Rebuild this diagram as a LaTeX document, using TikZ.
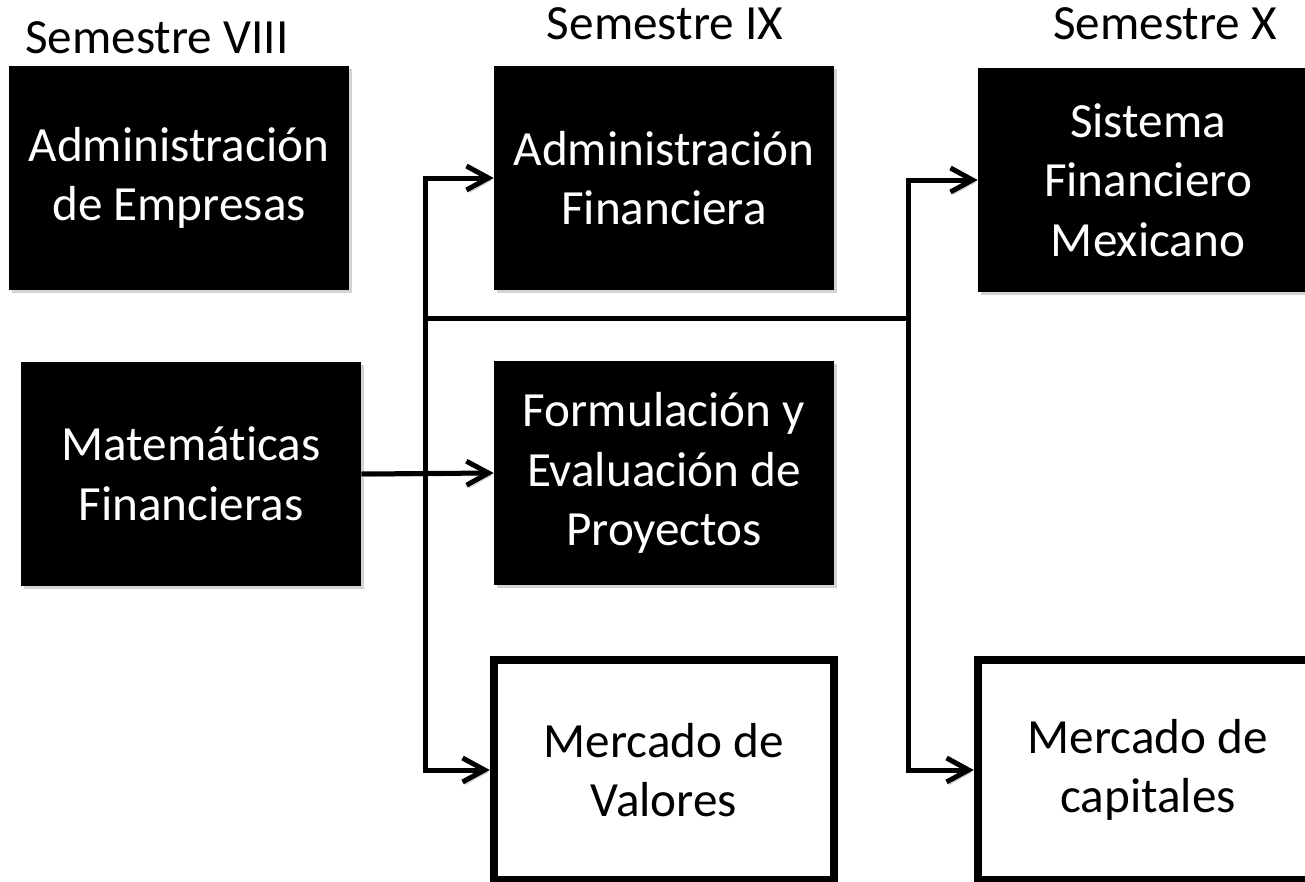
\documentclass[tikz,border=0pt]{standalone}
\usepackage{fontspec}
\setmainfont[Ligatures=NoCommon]{Carlito}
\usetikzlibrary{arrows.meta,shadows}
\begin{document}
\begin{tikzpicture}[x=0.02cm, y=-0.02cm,
		materia/.style={rectangle, fill=black, text=white, minimum width=6.8cm, minimum height=4.5cm, text width=6.4cm, align=flush center, font=\fontsize{28}{34}\selectfont, drop shadow={shadow xshift=0.06cm, shadow yshift=-0.06cm, opacity=0.35}},
		optativa/.style={rectangle, fill=white, draw=black, line width=0.17cm, minimum width=6.8cm, minimum height=4.4cm, text width=6.2cm, align=flush center, font=\fontsize{28}{34}\selectfont},
		semestre/.style={font=\fontsize{28}{34}\selectfont},
		sombra/.style={preaction={draw=black, opacity=0.25, transform canvas={xshift=0.05cm, yshift=-0.05cm}}},
		linea/.style={line width=0.1cm, sombra},
		flecha/.style={linea, -{Straight Barb[length=0.44cm, width=0.48cm]}}]
		\useasboundingbox (0,0) rectangle (1305,882);
		\node[semestre](semVIII) at (157,38){Semestre VIII};
		\node[semestre](semIX) at (665,24){Semestre IX};
		\node[semestre](semX) at (1165,24){Semestre X};
		\node[materia](admEmp) at (179,178){Administración\\de Empresas};
		\node[materia](matFin) at (191,474){Matemáticas\\Financieras};
		\node[materia](admFin) at (664,178){Administración\\Financiera};
		\node[materia](formEval) at (664,473){Formulación y\\Evaluación de\\Proyectos};
		\node[optativa](mercVal) at (664,770){Mercado de\\Valores};
		\node[materia](sisFin) at (1148,180){Sistema\\Financiero\\Mexicano};
		\node[optativa](mercCap) at (1148,770){Mercado de\\capitales};
		\coordinate (busL) at (425,318);
		\coordinate (busR) at (908,318);
		\draw [flecha] (matFin.east) -- (formEval.west);
		\draw [flecha] (busL) |- (admFin.west);
		\draw [flecha] (busL) |- (mercVal.west);
		\draw [linea] (busL) -- (busR);
		\draw [flecha] (busR) |- (sisFin.west);
		\draw [flecha] (busR) |- (mercCap.west);
	\end{tikzpicture}
\end{document}
